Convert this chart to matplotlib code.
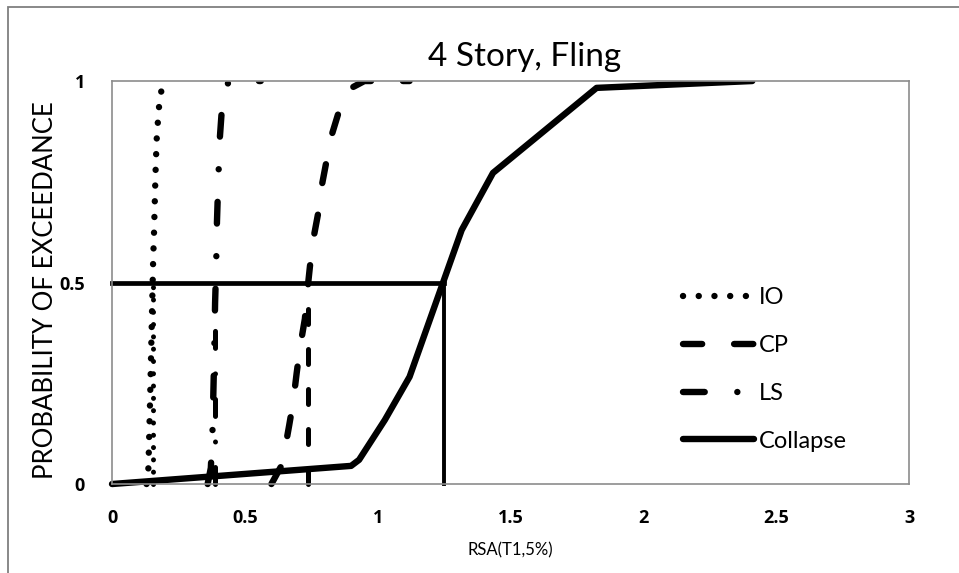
import matplotlib.pyplot as plt
from matplotlib.patches import Rectangle

plt.rcParams['font.family'] = ['Lato', 'DejaVu Sans']

# --- data ---
io_x = [0.13, 0.137, 0.143, 0.149, 0.155, 0.158, 0.161, 0.164, 0.168, 0.172, 0.176, 0.183, 0.195, 0.21]
io_y = [0.0, 0.04, 0.2, 0.38, 0.56, 0.62, 0.70, 0.777, 0.854, 0.893, 0.93, 0.97, 0.99, 1.0]

cp_x = [0.60, 0.639, 0.648, 0.667, 0.682, 0.695, 0.708, 0.726, 0.733, 0.745, 0.757,
        0.776, 0.789, 0.808, 0.827, 0.858, 0.907, 0.95, 1.12]
cp_y = [0.0, 0.047, 0.076, 0.146, 0.204, 0.275, 0.34, 0.41, 0.465, 0.54, 0.605,
        0.672, 0.738, 0.804, 0.866, 0.933, 0.985, 1.0, 1.0]

ls_x = [0.36, 0.372, 0.378, 0.384, 0.388, 0.392, 0.395, 0.40, 0.406, 0.417, 0.44, 0.56]
ls_y = [0.0, 0.04, 0.125, 0.3, 0.45, 0.54, 0.65, 0.754, 0.86, 0.963, 1.0, 1.0]

col_x = [0.0, 0.90, 0.93, 1.027, 1.12, 1.246, 1.316, 1.434, 1.824, 2.41]
col_y = [0.0, 0.045, 0.06, 0.159, 0.266, 0.50, 0.63, 0.772, 0.983, 1.0]

# medians
io_med, ls_med, cp_med, col_med = 0.155, 0.388, 0.738, 1.25

x_ticks = [0, 0.5, 1, 1.5, 2, 2.5, 3]
x_tick_labels = ['0', '0.5', '1', '1.5', '2', '2.5', '3']
y_ticks = [0, 0.5, 1]
y_tick_labels = ['0', '0.5', '1']

fig = plt.figure(figsize=(9.59, 5.73), dpi=100)
ax = fig.add_axes([0.1168, 0.1553, 0.8311, 0.7033])

lw = 4.6
dot = (0, (0.01, 2.45))
dash = (0, (3.0, 5.0))
dashdot = (0, (3.4, 5.1, 0.01, 5.1))

# Excel-like clipping: cut at top, let the lines spill a bit at the bottom
clip = Rectangle((-0.01, -0.03), 1.02, 1.03, transform=ax.transAxes)

lines = []
lines += ax.plot(io_x, io_y, color='black', lw=lw, linestyle=dot, dash_capstyle='round', label='IO')
lines += ax.plot(cp_x, cp_y, color='black', lw=lw, linestyle=dash, dash_capstyle='round', label='CP')
lines += ax.plot(ls_x, ls_y, color='black', lw=lw, linestyle=dashdot, dash_capstyle='round', label='LS')
lines += ax.plot(col_x, col_y, color='black', lw=lw, solid_capstyle='round', label='Collapse')

# median reference lines
lines += ax.plot([io_med, io_med], [0, 0.5], color='black', lw=3.6, linestyle=dot, dash_capstyle='round')
lines += ax.plot([ls_med, ls_med], [0, 0.5], color='black', lw=3.6, linestyle=dashdot, dash_capstyle='round')
lines += ax.plot([cp_med, cp_med], [0, 0.5], color='black', lw=3.6, linestyle=dash, dash_capstyle='round')
lines += ax.plot([0, col_med], [0.5, 0.5], color='black', lw=3.4)
lines += ax.plot([col_med, col_med], [0, 0.5], color='black', lw=2.8)
for ln in lines:
    ln.set_clip_path(clip)

ax.set_xlim(0, 3)
ax.set_ylim(0, 1)
tick_font = dict(family=['Open Sans', 'DejaVu Sans'], fontweight='bold', fontsize=13)
ax.set_xticks(x_ticks)
ax.set_xticklabels(x_tick_labels, **tick_font)
ax.set_yticks(y_ticks)
ax.set_yticklabels(y_tick_labels, **tick_font)
ax.tick_params(length=0)
ax.tick_params(axis='x', pad=18)
ax.tick_params(axis='y', pad=19.5)

for s in ax.spines.values():
    s.set_color('#8c8c8c')
    s.set_linewidth(1.2)

ax.set_xlabel('RSA(T1,5%)', fontsize=12, va='center')
ax.xaxis.set_label_coords(0.5, -0.1636)
ax.set_ylabel('PROBABILITY OF EXCEEDANCE', fontsize=18.5, va='center')
ax.yaxis.set_label_coords(-0.083, 0.481)
fig.text(0.547, 1 - 57 / 573, '4 Story, Fling', fontsize=24, ha='center', va='center')

leg = ax.legend(loc='upper left', bbox_to_anchor=(683 / 959, 1 - 287 / 573),
                bbox_transform=fig.transFigure, frameon=False, fontsize=17,
                handlelength=3.0, handletextpad=0.2, labelspacing=1.14,
                borderaxespad=0, borderpad=0)

# outer chart border
fig.patches.append(Rectangle((8 / 959, -0.1), 1.2, 1 - 7 / 573 + 0.1, transform=fig.transFigure,
                             fill=False, edgecolor='#7f7f7f', lw=1.3))

fig.savefig('out.png', dpi=100)
